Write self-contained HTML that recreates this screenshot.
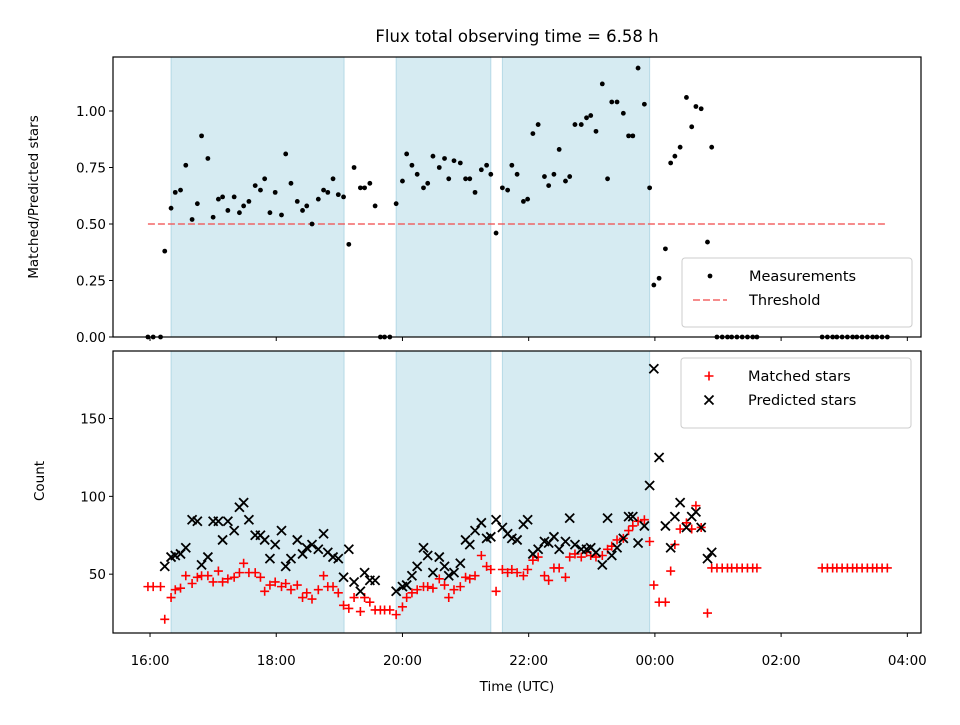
<!DOCTYPE html>
<html><head><meta charset="utf-8"><style>
html,body{margin:0;padding:0;background:#fff;}
svg text{font-family:"DejaVu Sans","Liberation Sans",sans-serif;fill:#000;}
</style></head><body>
<svg id="chart" width="960" height="720" viewBox="0 0 960 720" xmlns="http://www.w3.org/2000/svg">
<text x="517" y="42" font-size="16.5" text-anchor="middle">Flux total observing time = 6.58 h</text>
<g id="gtop"></g><g id="gbot"></g>
<text x="517" y="691" font-size="13.5" text-anchor="middle">Time (UTC)</text>
<text transform="translate(38,197) rotate(-90)" font-size="13.5" text-anchor="middle">Matched/Predicted stars</text>
<text transform="translate(44,481) rotate(-90)" font-size="13.5" text-anchor="middle">Count</text>
</svg>
<script>
// minutes since 16:00 UTC
const times = [-2,3,10,14,20,24,29,34,40,45,49,55,60,65,69,74,80,85,89,94,100,105,109,114,119,125,129,134,140,145,149,154,160,165,169,174,179,184,189,194,200,204,209,214,219,223,228,
234,240,244,249,254,260,264,269,275,280,284,289,295,300,304,309,315,320,324,329,335,340,344,349,355,359,364,369,375,379,384,389,395,399,404,410,415,419,424,430,435,439,444,450,455,459,464,470,475,
479,484,490,495,499,504,510,515,519,524,530,534,
539,544,549,553,558,563,568,573,577,
639,644,649,653,658,663,668,672,677,682,687,691,696,701];
const ratio = [0,0,0,0.38,0.57,0.64,0.65,0.76,0.52,0.59,0.89,0.79,0.53,0.61,0.62,0.56,0.62,0.55,0.58,0.60,0.67,0.65,0.70,0.55,0.64,0.54,0.81,0.68,0.60,0.56,0.58,0.50,0.61,0.65,0.64,0.70,0.63,0.62,0.41,0.75,0.66,0.66,0.68,0.58,0,0,0,
0.59,0.69,0.81,0.76,0.72,0.66,0.68,0.80,0.75,0.79,0.70,0.78,0.77,0.70,0.70,0.64,0.74,0.76,0.72,0.46,0.66,0.65,0.76,0.72,0.60,0.61,0.90,0.94,0.71,0.67,0.72,0.83,0.69,0.71,0.94,0.94,0.97,0.98,0.91,1.12,0.70,1.04,1.04,0.99,0.89,0.89,1.19,1.03,0.66,
0.23,0.26,0.39,0.77,0.80,0.84,1.06,0.93,1.02,1.01,0.42,0.84,
0,0,0,0,0,0,0,0,0,
0,0,0,0,0,0,0,0,0,0,0,0,0,0];
const matched = [42,42,42,21,35,40,41,49,44,48,49,49,45,52,45,47,48,51,57,51,51,48,39,43,45,42,44,40,43,35,38,34,40,49,42,42,38,30,28,35,26,35,32,27,27,27,27,
24,29,35,38,40,42,42,41,47,43,35,40,42,48,47,49,62,55,53,39,53,51,53,51,49,53,59,61,49,46,54,54,48,61,63,61,64,62,61,62,66,68,72,73,78,81,84,85,71,
43,32,32,52,69,79,83,79,94,80,25,54,
54,54,54,54,54,54,54,54,54,
54,54,54,54,54,54,54,54,54,54,54,54,54,54];
const predicted = [null,null,null,55,61,62,63,67,85,84,56,61,84,84,72,84,78,93,96,85,75,75,72,60,69,78,55,60,72,63,67,69,66,76,64,61,60,48,66,45,39,51,46,46,null,null,null,
39,42,43,49,55,67,62,51,61,55,49,51,57,72,69,78,83,73,74,85,80,76,73,72,82,85,63,66,71,70,74,66,71,86,69,66,66,67,64,56,86,62,67,73,87,87,70,81,107,
182,125,81,67,87,96,80,87,90,80,60,64,
null,null,null,null,null,null,null,null,null,
null,null,null,null,null,null,null,null,null,null,null,null,null,null];
const spans = [[20,184.5],[234,324],[335,475]];
const threshold = 0.5;
const xTickMinutes = [0,120,240,360,480,600,720];
const xTickLabels = ["16:00","18:00","20:00","22:00","00:00","02:00","04:00"];
const topTicks = [0,0.25,0.5,0.75,1.0];
const topTickLabels = ["0.00","0.25","0.50","0.75","1.00"];
const botTicks = [50,100,150];

const NS="http://www.w3.org/2000/svg";
function mk(p,tag,a){const e=document.createElementNS(NS,tag);for(const k in a)e.setAttribute(k,a[k]);p.appendChild(e);return e;}
const L=113,R=921;
const xS=m=>L+(m-(-35.2))/(733-(-35.2))*(R-L);
const tT=57,tB=337, yT=v=>tB-v/1.239*(tB-tT);
const bT=351,bB=633, yB=v=>bB-(v-12.2)/(193.4-12.2)*(bB-bT);
const gTop=document.getElementById('gtop'), gBot=document.getElementById('gbot');

function panel(g,T,B,nm){
  for(const s of spans){
    const r=mk(g,'rect',{x:xS(s[0]),y:T,width:xS(s[1])-xS(s[0]),height:B-T,fill:'rgba(173,216,230,0.5)',stroke:'rgba(150,200,220,0.6)','stroke-width':1});
    
    
  }
  xTickMinutes.forEach((m,i)=>{
    const x=xS(m);
    mk(g,'line',{x1:x,x2:x,y1:B,y2:B+4,stroke:'#000','stroke-width':1});
    if(nm==='bottom'){
      const t=mk(g,'text',{x:x,y:B+32,'font-size':13.5,'text-anchor':'middle'});
      t.textContent=xTickLabels[i];
      
      
    }
  });
}
panel(gTop,tT,tB,'top');
panel(gBot,bT,bB,'bottom');

topTicks.forEach((v,i)=>{
  const y=yT(v);
  mk(gTop,'line',{x1:L-4,x2:L,y1:y,y2:y,stroke:'#000'});
  const t=mk(gTop,'text',{x:L-7,y:y+5,'font-size':13.5,'text-anchor':'end'});t.textContent=topTickLabels[i];
  
  
});
botTicks.forEach(v=>{
  const y=yB(v);
  mk(gBot,'line',{x1:L-4,x2:L,y1:y,y2:y,stroke:'#000'});
  const t=mk(gBot,'text',{x:L-7,y:y+5,'font-size':13.5,'text-anchor':'end'});t.textContent=String(v);
  
  
});

const th=mk(gTop,'line',{x1:xS(times[0]),x2:xS(times[times.length-1]),y1:yT(threshold),y2:yT(threshold),stroke:'rgba(240,80,80,0.75)','stroke-width':1.8,'stroke-dasharray':'7,3'});



times.forEach((m,i)=>{
  const c=mk(gTop,'circle',{cx:xS(m),cy:yT(ratio[i]),r:2.4,fill:'#000'});
  
  
});
times.forEach((m,i)=>{
  if(matched[i]==null)return;
  const x=xS(m),y=yB(matched[i]);
  const p=mk(gBot,'path',{d:`M${x-4.5} ${y}H${x+4.5}M${x} ${y-4.5}V${y+4.5}`,stroke:'#ff0000','stroke-width':1.6,fill:'none'});
  
  
});
times.forEach((m,i)=>{
  if(predicted[i]==null)return;
  const x=xS(m),y=yB(predicted[i]);
  const p=mk(gBot,'path',{d:`M${x-4.5} ${y-4.5}L${x+4.5} ${y+4.5}M${x-4.5} ${y+4.5}L${x+4.5} ${y-4.5}`,stroke:'#000','stroke-width':1.8,fill:'none'});
  
  
});

const f1=mk(gTop,'rect',{x:L,y:tT,width:R-L,height:tB-tT,fill:'none',stroke:'#000','stroke-width':1.2});


const f2=mk(gBot,'rect',{x:L,y:bT,width:R-L,height:bB-bT,fill:'none',stroke:'#000','stroke-width':1.2});



function legend(g,x,y,w,h,items,nm){
  const r=mk(g,'rect',{x:x,y:y,width:w,height:h,rx:3,fill:'rgba(255,255,255,0.8)',stroke:'#ccc'});
  
  
  items.forEach((it,k)=>{
    const cy=y+18+k*24, cx=x+28;
    let e;
    if(it.t==='dot') e=mk(g,'circle',{cx:cx,cy:cy,r:2.4,fill:'#000'});
    else if(it.t==='dash') e=mk(g,'line',{x1:cx-17,x2:cx+17,y1:cy,y2:cy,stroke:'rgba(240,80,80,0.75)','stroke-width':1.8,'stroke-dasharray':'7,3'});
    else if(it.t==='plus') e=mk(g,'path',{d:`M${cx-4.5} ${cy}H${cx+4.5}M${cx} ${cy-4.5}V${cy+4.5}`,stroke:'#f00','stroke-width':1.6});
    else e=mk(g,'path',{d:`M${cx-4.5} ${cy-4.5}L${cx+4.5} ${cy+4.5}M${cx-4.5} ${cy+4.5}L${cx+4.5} ${cy-4.5}`,stroke:'#000','stroke-width':1.8});
    
    
    const t=mk(g,'text',{x:x+67,y:cy+5,'font-size':14.5});
    t.textContent=it.label;
    
    
  });
}
legend(gTop,682,258,230,69,[{t:'dot',label:'Measurements'},{t:'dash',label:'Threshold'}],'top-legend');
legend(gBot,681,358,230,70,[{t:'plus',label:'Matched stars'},{t:'x',label:'Predicted stars'}],'bottom-legend');
</script>
</body></html>
